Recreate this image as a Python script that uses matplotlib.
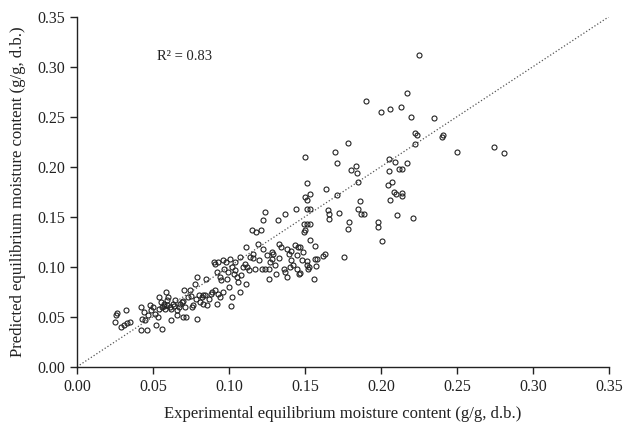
import numpy as np
import matplotlib
matplotlib.use('Agg')
import matplotlib.pyplot as plt

#============================================================================#
# points (experimental, predicted)
#============================================================================#
exp_low = [0.025, 0.0257, 0.026, 0.029, 0.031, 0.032, 0.033, 0.035, 0.042, 0.042,
           0.043, 0.044, 0.045, 0.046, 0.047, 0.048, 0.049, 0.050, 0.051, 0.052,
           0.053, 0.054, 0.054, 0.055, 0.056, 0.056, 0.057, 0.058, 0.0585, 0.059,
           0.060, 0.061, 0.062, 0.063, 0.0645, 0.0655, 0.066, 0.067, 0.069, 0.0695,
           0.0705, 0.071, 0.072, 0.073, 0.074, 0.0755, 0.0765, 0.0775, 0.079, 0.079,
           0.080, 0.081, 0.082, 0.083, 0.084, 0.085, 0.0855, 0.0865, 0.0885, 0.090,
           0.091, 0.091, 0.092, 0.092, 0.093, 0.093, 0.094, 0.094, 0.095, 0.096,
           0.096, 0.098, 0.0985, 0.0995, 0.100, 0.1005, 0.101, 0.102, 0.102, 0.103,
           0.104, 0.105, 0.106, 0.107, 0.107, 0.108, 0.109, 0.1105, 0.111, 0.111,
           0.113, 0.114, 0.115, 0.1155, 0.117, 0.118, 0.119, 0.120, 0.121, 0.1215,
           0.1225, 0.1225, 0.1235, 0.1235, 0.125, 0.126, 0.1265, 0.127, 0.128, 0.129,
           0.130, 0.131, 0.1325, 0.133, 0.1345, 0.136, 0.137, 0.137, 0.138, 0.138,
           0.1395, 0.140, 0.141, 0.142, 0.1435, 0.144, 0.1445, 0.145, 0.1455, 0.146,
           # extra ones in the crowded bits
           0.057, 0.059, 0.062, 0.064, 0.068, 0.070, 0.075, 0.078, 0.083, 0.088,
           0.097, 0.104, 0.112, 0.116, 0.128, 0.133, 0.141]
pred_low = [0.045, 0.052, 0.054, 0.040, 0.042, 0.057, 0.044, 0.045, 0.037, 0.060,
            0.048, 0.055, 0.047, 0.037, 0.052, 0.062, 0.057, 0.060, 0.053, 0.042,
            0.050, 0.058, 0.070, 0.065, 0.038, 0.060, 0.063, 0.058, 0.075, 0.067,
            0.070, 0.060, 0.047, 0.063, 0.067, 0.057, 0.052, 0.060, 0.065, 0.050,
            0.077, 0.060, 0.050, 0.070, 0.077, 0.060, 0.062, 0.083, 0.090, 0.048,
            0.072, 0.065, 0.070, 0.063, 0.072, 0.088, 0.062, 0.068, 0.075, 0.105,
            0.103, 0.077, 0.063, 0.095, 0.073, 0.105, 0.090, 0.070, 0.087, 0.075,
            0.107, 0.105, 0.088, 0.095, 0.080, 0.108, 0.061, 0.100, 0.070, 0.093,
            0.105, 0.090, 0.085, 0.110, 0.075, 0.092, 0.100, 0.103, 0.120, 0.083,
            0.097, 0.110, 0.137, 0.113, 0.098, 0.135, 0.123, 0.107, 0.137, 0.098,
            0.147, 0.118, 0.155, 0.098, 0.112, 0.098, 0.088, 0.105, 0.108, 0.113,
            0.102, 0.093, 0.147, 0.123, 0.120, 0.098, 0.153, 0.095, 0.118, 0.090,
            0.113, 0.100, 0.107, 0.102, 0.122, 0.158, 0.112, 0.098, 0.120, 0.093,
            0.061, 0.062, 0.058, 0.061, 0.063, 0.066, 0.071, 0.068, 0.072, 0.073,
            0.098, 0.097, 0.100, 0.109, 0.115, 0.109, 0.116]

exp_mid = [0.1511, 0.1533, 0.1653, 0.1658, 0.166, 0.172, 0.185, 0.187, 0.189, 0.2104,
           0.221, 0.179, 0.178, 0.198, 0.198, 0.2005, 0.1755, 0.149, 0.151, 0.153,
           0.1494, 0.150, 0.1533, 0.1566, 0.1485, 0.1467, 0.148, 0.1511, 0.1516, 0.1526,
           0.152, 0.1467, 0.1566, 0.158, 0.157, 0.1616, 0.163, 0.1561]
pred_mid = [0.158, 0.158, 0.1567, 0.1527, 0.1473, 0.154, 0.158, 0.153, 0.153, 0.1513,
            0.1487, 0.145, 0.138, 0.1443, 0.1393, 0.126, 0.110, 0.143, 0.143, 0.143,
            0.135, 0.137, 0.127, 0.121, 0.115, 0.120, 0.107, 0.106, 0.102, 0.100,
            0.098, 0.094, 0.108, 0.108, 0.1007, 0.1107, 0.1127, 0.0877]

exp_high = [0.225, 0.217, 0.190, 0.200, 0.206, 0.213, 0.220, 0.235, 0.2226, 0.2237,
            0.241, 0.240, 0.222, 0.178, 0.150, 0.1695, 0.171, 0.250, 0.274, 0.281,
            0.205, 0.209, 0.217, 0.1835, 0.180, 0.184, 0.2055, 0.2115, 0.214, 0.151,
            0.164, 0.1846, 0.207, 0.2044, 0.153, 0.150, 0.151, 0.171, 0.186, 0.2083,
            0.210, 0.2138, 0.2136, 0.206]
pred_high = [0.312, 0.274, 0.266, 0.255, 0.258, 0.260, 0.250, 0.249, 0.234, 0.232,
             0.232, 0.230, 0.223, 0.224, 0.210, 0.215, 0.204, 0.215, 0.220, 0.214,
             0.208, 0.205, 0.204, 0.201, 0.197, 0.194, 0.196, 0.198, 0.198, 0.184,
             0.178, 0.185, 0.185, 0.182, 0.173, 0.170, 0.167, 0.172, 0.166, 0.175,
             0.1727, 0.174, 0.171, 0.167]

experimental = np.array(exp_low + exp_mid + exp_high)
predicted = np.array(pred_low + pred_mid + pred_high)

ticks = [0.00, 0.05, 0.10, 0.15, 0.20, 0.25, 0.30, 0.35]

#============================================================================#
plt.rcParams['font.family'] = ['Liberation Serif', 'DejaVu Serif']

fig = plt.figure(figsize=(6.28, 4.24), dpi=100)
ax = fig.add_axes([0.1226, 0.135, 0.8474, 0.826])

ax.plot([0, 0.35], [0, 0.35], linestyle=':', color='#555555', linewidth=0.9)
ax.plot(experimental, predicted, 'o', markersize=3.6, markerfacecolor='none',
        markeredgecolor='#222222', markeredgewidth=0.8)

ax.set_xlim(0, 0.35)
ax.set_ylim(0, 0.35)
ax.set_xticks(ticks)
ax.set_yticks(ticks)
ax.set_xticklabels(['{:.2f}'.format(t) for t in ticks])
ax.set_yticklabels(['{:.2f}'.format(t) for t in ticks])
ax.tick_params(direction='out', length=5, width=1, labelsize=11.5, colors='#222222')
for s in ['top', 'right']:
    ax.spines[s].set_visible(False)
for s in ['left', 'bottom']:
    ax.spines[s].set_linewidth(1)
    ax.spines[s].set_color('#222222')

ax.set_xlabel('Experimental equilibrium moisture content (g/g, d.b.)', fontsize=12,
              color='#222222', labelpad=8)
ax.set_ylabel('Predicted equilibrium moisture content (g/g, d.b.)', fontsize=12,
              color='#222222', labelpad=8)
ax.text(0.0525, 0.31, 'R² = 0.83', fontsize=10.5, color='#222222', va='center')

fig.savefig('out.png', dpi=100)
